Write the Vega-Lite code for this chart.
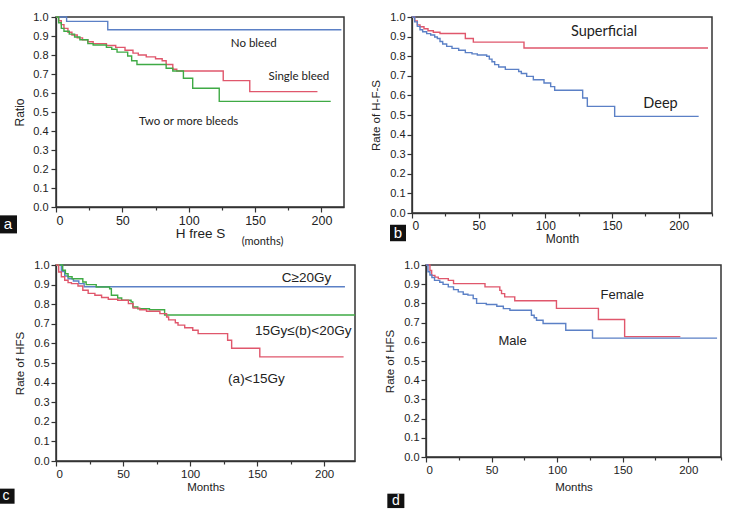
{
  "$schema": "https://vega.github.io/schema/vega-lite/v6.json",
  "padding": {"left": -4, "top": 10, "right": 5, "bottom": 0},
  "background": "white",
  "bounds": "full",
  "spacing": 10,
  "resolve": {"scale": {"x": "independent", "y": "independent", "color": "independent"}},
  "datasets": {
    "A": [
      {"t": 0, "s": 1, "g": "No bleed"}, {"t": 8, "s": 0.977, "g": "No bleed"}, {"t": 39, "s": 0.933, "g": "No bleed"}, {"t": 215, "s": 0.933, "g": "No bleed"},
      {"t": 0, "s": 1, "g": "Single bleed"}, {"t": 2, "s": 0.98, "g": "Single bleed"}, {"t": 4, "s": 0.96, "g": "Single bleed"}, {"t": 6, "s": 0.94, "g": "Single bleed"}, {"t": 9, "s": 0.92, "g": "Single bleed"}, {"t": 12, "s": 0.905, "g": "Single bleed"}, {"t": 16, "s": 0.89, "g": "Single bleed"}, {"t": 20, "s": 0.88, "g": "Single bleed"}, {"t": 24, "s": 0.87, "g": "Single bleed"}, {"t": 28, "s": 0.86, "g": "Single bleed"}, {"t": 38, "s": 0.85, "g": "Single bleed"}, {"t": 45, "s": 0.84, "g": "Single bleed"}, {"t": 52, "s": 0.825, "g": "Single bleed"}, {"t": 58, "s": 0.81, "g": "Single bleed"}, {"t": 62, "s": 0.8, "g": "Single bleed"}, {"t": 68, "s": 0.79, "g": "Single bleed"}, {"t": 75, "s": 0.78, "g": "Single bleed"}, {"t": 80, "s": 0.77, "g": "Single bleed"}, {"t": 83, "s": 0.75, "g": "Single bleed"}, {"t": 88, "s": 0.725, "g": "Single bleed"}, {"t": 91, "s": 0.716, "g": "Single bleed"}, {"t": 126, "s": 0.665, "g": "Single bleed"}, {"t": 146, "s": 0.607, "g": "Single bleed"}, {"t": 197, "s": 0.607, "g": "Single bleed"},
      {"t": 0, "s": 1, "g": "Two or more bleeds"}, {"t": 2, "s": 0.97, "g": "Two or more bleeds"}, {"t": 4, "s": 0.94, "g": "Two or more bleeds"}, {"t": 6, "s": 0.925, "g": "Two or more bleeds"}, {"t": 10, "s": 0.91, "g": "Two or more bleeds"}, {"t": 14, "s": 0.895, "g": "Two or more bleeds"}, {"t": 18, "s": 0.88, "g": "Two or more bleeds"}, {"t": 24, "s": 0.86, "g": "Two or more bleeds"}, {"t": 28, "s": 0.853, "g": "Two or more bleeds"}, {"t": 38, "s": 0.84, "g": "Two or more bleeds"}, {"t": 42, "s": 0.83, "g": "Two or more bleeds"}, {"t": 46, "s": 0.815, "g": "Two or more bleeds"}, {"t": 54, "s": 0.795, "g": "Two or more bleeds"}, {"t": 57, "s": 0.77, "g": "Two or more bleeds"}, {"t": 61, "s": 0.75, "g": "Two or more bleeds"}, {"t": 83, "s": 0.73, "g": "Two or more bleeds"}, {"t": 88, "s": 0.716, "g": "Two or more bleeds"}, {"t": 96, "s": 0.678, "g": "Two or more bleeds"}, {"t": 103, "s": 0.625, "g": "Two or more bleeds"}, {"t": 123, "s": 0.556, "g": "Two or more bleeds"}, {"t": 207, "s": 0.556, "g": "Two or more bleeds"}
    ],
    "B": [
      {"t": 0, "s": 1, "g": "Superficial"}, {"t": 2, "s": 0.98, "g": "Superficial"}, {"t": 4, "s": 0.96, "g": "Superficial"}, {"t": 6, "s": 0.95, "g": "Superficial"}, {"t": 9, "s": 0.94, "g": "Superficial"}, {"t": 12, "s": 0.93, "g": "Superficial"}, {"t": 16, "s": 0.922, "g": "Superficial"}, {"t": 21, "s": 0.916, "g": "Superficial"}, {"t": 40, "s": 0.89, "g": "Superficial"}, {"t": 46, "s": 0.872, "g": "Superficial"}, {"t": 84, "s": 0.842, "g": "Superficial"}, {"t": 222, "s": 0.842, "g": "Superficial"},
      {"t": 0, "s": 1, "g": "Deep"}, {"t": 2, "s": 0.975, "g": "Deep"}, {"t": 4, "s": 0.952, "g": "Deep"}, {"t": 6, "s": 0.935, "g": "Deep"}, {"t": 8, "s": 0.925, "g": "Deep"}, {"t": 11, "s": 0.915, "g": "Deep"}, {"t": 14, "s": 0.908, "g": "Deep"}, {"t": 17, "s": 0.898, "g": "Deep"}, {"t": 19, "s": 0.89, "g": "Deep"}, {"t": 21, "s": 0.875, "g": "Deep"}, {"t": 23, "s": 0.862, "g": "Deep"}, {"t": 26, "s": 0.85, "g": "Deep"}, {"t": 30, "s": 0.84, "g": "Deep"}, {"t": 35, "s": 0.83, "g": "Deep"}, {"t": 40, "s": 0.818, "g": "Deep"}, {"t": 45, "s": 0.812, "g": "Deep"}, {"t": 49, "s": 0.806, "g": "Deep"}, {"t": 56, "s": 0.8, "g": "Deep"}, {"t": 58, "s": 0.785, "g": "Deep"}, {"t": 60, "s": 0.772, "g": "Deep"}, {"t": 62, "s": 0.757, "g": "Deep"}, {"t": 65, "s": 0.745, "g": "Deep"}, {"t": 70, "s": 0.733, "g": "Deep"}, {"t": 80, "s": 0.722, "g": "Deep"}, {"t": 82, "s": 0.712, "g": "Deep"}, {"t": 86, "s": 0.697, "g": "Deep"}, {"t": 91, "s": 0.68, "g": "Deep"}, {"t": 99, "s": 0.663, "g": "Deep"}, {"t": 104, "s": 0.645, "g": "Deep"}, {"t": 107, "s": 0.626, "g": "Deep"}, {"t": 128, "s": 0.587, "g": "Deep"}, {"t": 131.5, "s": 0.544, "g": "Deep"}, {"t": 152, "s": 0.493, "g": "Deep"}, {"t": 215, "s": 0.493, "g": "Deep"}
    ],
    "C": [
      {"t": 0, "s": 1, "g": "C≥20Gy"}, {"t": 4, "s": 0.966, "g": "C≥20Gy"}, {"t": 6.5, "s": 0.944, "g": "C≥20Gy"}, {"t": 9, "s": 0.93, "g": "C≥20Gy"}, {"t": 13, "s": 0.918, "g": "C≥20Gy"}, {"t": 17, "s": 0.905, "g": "C≥20Gy"}, {"t": 21, "s": 0.889, "g": "C≥20Gy"}, {"t": 215.5, "s": 0.889, "g": "C≥20Gy"},
      {"t": 0, "s": 1, "g": "15Gy≤(b)<20Gy"}, {"t": 5, "s": 0.973, "g": "15Gy≤(b)<20Gy"}, {"t": 7, "s": 0.955, "g": "15Gy≤(b)<20Gy"}, {"t": 9, "s": 0.94, "g": "15Gy≤(b)<20Gy"}, {"t": 12, "s": 0.93, "g": "15Gy≤(b)<20Gy"}, {"t": 20, "s": 0.913, "g": "15Gy≤(b)<20Gy"}, {"t": 22.5, "s": 0.9, "g": "15Gy≤(b)<20Gy"}, {"t": 30, "s": 0.888, "g": "15Gy≤(b)<20Gy"}, {"t": 40, "s": 0.879, "g": "15Gy≤(b)<20Gy"}, {"t": 41.3, "s": 0.846, "g": "15Gy≤(b)<20Gy"}, {"t": 46, "s": 0.832, "g": "15Gy≤(b)<20Gy"}, {"t": 49, "s": 0.82, "g": "15Gy≤(b)<20Gy"}, {"t": 56, "s": 0.812, "g": "15Gy≤(b)<20Gy"}, {"t": 57.3, "s": 0.786, "g": "15Gy≤(b)<20Gy"}, {"t": 61, "s": 0.777, "g": "15Gy≤(b)<20Gy"}, {"t": 69.7, "s": 0.772, "g": "15Gy≤(b)<20Gy"}, {"t": 81, "s": 0.745, "g": "15Gy≤(b)<20Gy"}, {"t": 223, "s": 0.745, "g": "15Gy≤(b)<20Gy"},
      {"t": 0, "s": 1, "g": "(a)<15Gy"}, {"t": 2, "s": 0.964, "g": "(a)<15Gy"}, {"t": 4, "s": 0.94, "g": "(a)<15Gy"}, {"t": 6.5, "s": 0.922, "g": "(a)<15Gy"}, {"t": 9, "s": 0.91, "g": "(a)<15Gy"}, {"t": 11.5, "s": 0.905, "g": "(a)<15Gy"}, {"t": 16.4, "s": 0.893, "g": "(a)<15Gy"}, {"t": 20, "s": 0.871, "g": "(a)<15Gy"}, {"t": 24, "s": 0.855, "g": "(a)<15Gy"}, {"t": 29, "s": 0.846, "g": "(a)<15Gy"}, {"t": 34, "s": 0.834, "g": "(a)<15Gy"}, {"t": 39, "s": 0.825, "g": "(a)<15Gy"}, {"t": 46, "s": 0.82, "g": "(a)<15Gy"}, {"t": 54, "s": 0.803, "g": "(a)<15Gy"}, {"t": 57.5, "s": 0.78, "g": "(a)<15Gy"}, {"t": 62.5, "s": 0.772, "g": "(a)<15Gy"}, {"t": 67.5, "s": 0.764, "g": "(a)<15Gy"}, {"t": 77.5, "s": 0.752, "g": "(a)<15Gy"}, {"t": 82.5, "s": 0.735, "g": "(a)<15Gy"}, {"t": 84, "s": 0.72, "g": "(a)<15Gy"}, {"t": 89, "s": 0.705, "g": "(a)<15Gy"}, {"t": 91, "s": 0.693, "g": "(a)<15Gy"}, {"t": 96, "s": 0.68, "g": "(a)<15Gy"}, {"t": 102, "s": 0.667, "g": "(a)<15Gy"}, {"t": 106, "s": 0.65, "g": "(a)<15Gy"}, {"t": 128, "s": 0.616, "g": "(a)<15Gy"}, {"t": 131, "s": 0.575, "g": "(a)<15Gy"}, {"t": 152, "s": 0.531, "g": "(a)<15Gy"}, {"t": 214.5, "s": 0.531, "g": "(a)<15Gy"}
    ],
    "D": [
      {"t": 0, "s": 1, "g": "Female"}, {"t": 3, "s": 0.972, "g": "Female"}, {"t": 4.3, "s": 0.946, "g": "Female"}, {"t": 6.8, "s": 0.937, "g": "Female"}, {"t": 9.4, "s": 0.929, "g": "Female"}, {"t": 17, "s": 0.92, "g": "Female"}, {"t": 21, "s": 0.903, "g": "Female"}, {"t": 45, "s": 0.886, "g": "Female"}, {"t": 56.3, "s": 0.868, "g": "Female"}, {"t": 57.6, "s": 0.851, "g": "Female"}, {"t": 60, "s": 0.834, "g": "Female"}, {"t": 67.7, "s": 0.814, "g": "Female"}, {"t": 99.5, "s": 0.774, "g": "Female"}, {"t": 131.5, "s": 0.716, "g": "Female"}, {"t": 151.5, "s": 0.627, "g": "Female"}, {"t": 194, "s": 0.627, "g": "Female"},
      {"t": 0, "s": 1, "g": "Male"}, {"t": 1.5, "s": 0.965, "g": "Male"}, {"t": 3, "s": 0.948, "g": "Male"}, {"t": 4.5, "s": 0.935, "g": "Male"}, {"t": 6.5, "s": 0.92, "g": "Male"}, {"t": 10.5, "s": 0.91, "g": "Male"}, {"t": 13, "s": 0.899, "g": "Male"}, {"t": 17, "s": 0.886, "g": "Male"}, {"t": 21, "s": 0.872, "g": "Male"}, {"t": 24.6, "s": 0.86, "g": "Male"}, {"t": 28.4, "s": 0.848, "g": "Male"}, {"t": 32, "s": 0.843, "g": "Male"}, {"t": 36, "s": 0.825, "g": "Male"}, {"t": 38.6, "s": 0.8, "g": "Male"}, {"t": 46, "s": 0.794, "g": "Male"}, {"t": 54, "s": 0.785, "g": "Male"}, {"t": 59, "s": 0.773, "g": "Male"}, {"t": 64, "s": 0.764, "g": "Male"}, {"t": 80.4, "s": 0.738, "g": "Male"}, {"t": 82.5, "s": 0.725, "g": "Male"}, {"t": 84.3, "s": 0.712, "g": "Male"}, {"t": 89.3, "s": 0.695, "g": "Male"}, {"t": 106.6, "s": 0.66, "g": "Male"}, {"t": 127, "s": 0.619, "g": "Male"}, {"t": 222, "s": 0.619, "g": "Male"}
    ]
  },
  "vconcat": [
    {
      "spacing": 68,
      "bounds": "flush",
      "resolve": {"scale": {"x": "independent", "y": "independent", "color": "independent"}},
      "hconcat": [
        {
          "width": 288, "height": 190,
          "encoding": {
            "x": {"field": "t", "type": "quantitative", "scale": {"domain": [0, 217], "nice": false, "zero": false},
              "axis": {"title": "H free S", "values": [0, 25, 50, 75, 100, 125, 150, 175, 200], "labelExpr": "datum.value % 50 === 0 ? datum.label : ''", "labelFontSize": 12.5, "titleFontSize": 13.5, "titlePadding": 0, "tickSize": {"condition": {"test": "datum.value % 50 === 0", "value": 5}, "value": 3}}},
            "y": {"field": "s", "type": "quantitative", "scale": {"domain": [0, 1], "nice": false},
              "axis": {"title": "Ratio", "values": [0, 0.1, 0.2, 0.3, 0.4, 0.5, 0.6, 0.7, 0.8, 0.9, 1.0], "format": ".1f", "labelFontSize": 11, "titleFontSize": 12, "titlePadding": 6, "labelPadding": 3}}
          },
          "layer": [
            {"data": {"name": "A"}, "mark": {"type": "line", "interpolate": "step-after", "strokeWidth": 1.4},
              "encoding": {"color": {"field": "g", "type": "nominal", "legend": null, "scale": {"domain": ["No bleed", "Single bleed", "Two or more bleeds"], "range": ["#5b80c6", "#e0576c", "#3faa45"]}}}},
            {"data": {"values": [{"t": 149, "s": 0.86, "label": "No bleed"}, {"t": 183, "s": 0.685, "label": "Single bleed"}, {"t": 100, "s": 0.449, "label": "Two or more bleeds"}]},
              "mark": {"type": "text", "font": "Lato", "fontSize": 11.5, "color": "#222"},
              "encoding": {"text": {"field": "label"}}},
            {"data": {"values": [{"t": 155.6, "s": -0.185, "label": "(months)"}]},
              "mark": {"type": "text", "font": "Lato", "fontSize": 11, "color": "#222"},
              "encoding": {"text": {"field": "label"}}},
            {"data": {"values": [{"t": -43, "t2": -29.4, "s": -0.044, "s2": -0.139}]},
              "mark": {"type": "rect", "color": "#111"},
              "encoding": {"x2": {"field": "t2"}, "y2": {"field": "s2"}}},
            {"data": {"values": [{"t": -36.2, "s": -0.092, "label": "a"}]},
              "mark": {"type": "text", "font": "Liberation Sans", "fontSize": 15, "color": "white", "baseline": "middle"},
              "encoding": {"text": {"field": "label"}}}
          ]
        },
        {
          "width": 300, "height": 196,
          "encoding": {
            "x": {"field": "t", "type": "quantitative", "scale": {"domain": [0, 225], "nice": false, "zero": false},
              "axis": {"title": "Month", "values": [0, 25, 50, 75, 100, 125, 150, 175, 200, 225], "labelExpr": "datum.value % 50 === 0 ? datum.label : ''", "labelFontSize": 12, "titleFontSize": 12, "titlePadding": 2, "tickSize": {"condition": {"test": "datum.value % 50 === 0", "value": 5}, "value": 3}}},
            "y": {"field": "s", "type": "quantitative", "scale": {"domain": [0, 1], "nice": false},
              "axis": {"title": "Rate of H-F-S", "values": [0, 0.1, 0.2, 0.3, 0.4, 0.5, 0.6, 0.7, 0.8, 0.9, 1.0], "format": ".1f", "labelFontSize": 11, "titleFontSize": 11.5, "titlePadding": 8}}
          },
          "layer": [
            {"data": {"name": "B"}, "mark": {"type": "line", "interpolate": "step-after", "strokeWidth": 1.4},
              "encoding": {"color": {"field": "g", "type": "nominal", "legend": null, "scale": {"domain": ["Superficial", "Deep"], "range": ["#e0576c", "#5b80c6"]}}}},
            {"data": {"values": [{"t": 144, "s": 0.922, "label": "Superficial"}, {"t": 186.4, "s": 0.556, "label": "Deep"}]},
              "mark": {"type": "text", "font": "Lato", "fontSize": 14.5, "color": "#222"},
              "encoding": {"text": {"field": "label"}}},
            {"data": {"values": [{"t": -16.5, "t2": -4.5, "s": -0.06, "s2": -0.144}]},
              "mark": {"type": "rect", "color": "#111"},
              "encoding": {"x2": {"field": "t2"}, "y2": {"field": "s2"}}},
            {"data": {"values": [{"t": -10.5, "s": -0.102, "label": "b"}]},
              "mark": {"type": "text", "font": "Liberation Sans", "fontSize": 15, "color": "white", "baseline": "middle"},
              "encoding": {"text": {"field": "label"}}}
          ]
        }
      ]
    },
    {
      "spacing": 71,
      "bounds": "flush",
      "resolve": {"scale": {"x": "independent", "y": "independent", "color": "independent"}},
      "hconcat": [
        {
          "width": 299, "height": 196,
          "encoding": {
            "x": {"field": "t", "type": "quantitative", "scale": {"domain": [0, 223], "nice": false, "zero": false},
              "axis": {"title": "Months", "values": [0, 25, 50, 75, 100, 125, 150, 175, 200], "labelExpr": "datum.value % 50 === 0 ? datum.label : ''", "labelFontSize": 11.5, "titleFontSize": 11.5, "titlePadding": 2, "tickSize": {"condition": {"test": "datum.value % 50 === 0", "value": 5}, "value": 3}}},
            "y": {"field": "s", "type": "quantitative", "scale": {"domain": [0, 1], "nice": false},
              "axis": {"title": "Rate of HFS", "values": [0, 0.1, 0.2, 0.3, 0.4, 0.5, 0.6, 0.7, 0.8, 0.9, 1.0], "format": ".1f", "labelFontSize": 11, "titleFontSize": 11.5, "titlePadding": 8}}
          },
          "layer": [
            {"data": {"name": "C"}, "mark": {"type": "line", "interpolate": "step-after", "strokeWidth": 1.4},
              "encoding": {"color": {"field": "g", "type": "nominal", "legend": null, "scale": {"domain": ["C≥20Gy", "15Gy≤(b)<20Gy", "(a)<15Gy"], "range": ["#5b80c6", "#3faa45", "#e0576c"]}}}},
            {"data": {"values": [{"t": 186.8, "s": 0.932, "label": "C≥20Gy"}, {"t": 184.4, "s": 0.664, "label": "15Gy≤(b)<20Gy"}, {"t": 149.5, "s": 0.418, "label": "(a)<15Gy"}]},
              "mark": {"type": "text", "font": "Liberation Sans", "fontSize": 13.5, "color": "#222"},
              "encoding": {"text": {"field": "label"}}},
            {"data": {"values": [{"t": -43.6, "t2": -30.9, "s": -0.141, "s2": -0.218}]},
              "mark": {"type": "rect", "color": "#111"},
              "encoding": {"x2": {"field": "t2"}, "y2": {"field": "s2"}}},
            {"data": {"values": [{"t": -37.2, "s": -0.18, "label": "c"}]},
              "mark": {"type": "text", "font": "Liberation Sans", "fontSize": 14, "color": "white", "baseline": "middle"},
              "encoding": {"text": {"field": "label"}}}
          ]
        },
        {
          "width": 295, "height": 192,
          "encoding": {
            "x": {"field": "t", "type": "quantitative", "scale": {"domain": [0, 225], "nice": false, "zero": false},
              "axis": {"title": "Months", "values": [0, 25, 50, 75, 100, 125, 150, 175, 200, 225], "labelExpr": "datum.value % 50 === 0 ? datum.label : ''", "labelFontSize": 11.5, "titleFontSize": 11.5, "titlePadding": 6, "tickSize": {"condition": {"test": "datum.value % 50 === 0", "value": 5}, "value": 3}}},
            "y": {"field": "s", "type": "quantitative", "scale": {"domain": [0, 1], "nice": false},
              "axis": {"title": "Rate of HFS", "values": [0, 0.1, 0.2, 0.3, 0.4, 0.5, 0.6, 0.7, 0.8, 0.9, 1.0], "format": ".1f", "labelFontSize": 11, "titleFontSize": 11.5, "titlePadding": 8}}
          },
          "layer": [
            {"data": {"name": "D"}, "mark": {"type": "line", "interpolate": "step-after", "strokeWidth": 1.4},
              "encoding": {"color": {"field": "g", "type": "nominal", "legend": null, "scale": {"domain": ["Female", "Male"], "range": ["#e0576c", "#5b80c6"]}}}},
            {"data": {"values": [{"t": 149.7, "s": 0.844, "label": "Female"}, {"t": 66, "s": 0.606, "label": "Male"}]},
              "mark": {"type": "text", "font": "Liberation Sans", "fontSize": 13, "color": "#222"},
              "encoding": {"text": {"field": "label"}}},
            {"data": {"values": [{"t": -29.5, "t2": -16.5, "s": -0.191, "s2": -0.266}]},
              "mark": {"type": "rect", "color": "#111"},
              "encoding": {"x2": {"field": "t2"}, "y2": {"field": "s2"}}},
            {"data": {"values": [{"t": -23, "s": -0.228, "label": "d"}]},
              "mark": {"type": "text", "font": "Liberation Sans", "fontSize": 14, "color": "white", "baseline": "middle"},
              "encoding": {"text": {"field": "label"}}}
          ]
        }
      ]
    }
  ],
  "config": {
    "view": {"stroke": "#333", "strokeWidth": 1.5},
    "axis": {"grid": false, "domainColor": "#333", "domainWidth": 1.3, "tickColor": "#333", "tickWidth": 1.2, "tickSize": 5, "labelColor": "#222", "titleColor": "#222", "labelFont": "Liberation Sans", "titleFont": "Liberation Sans", "titleFontWeight": "normal", "labelPadding": 2}
  }
}
